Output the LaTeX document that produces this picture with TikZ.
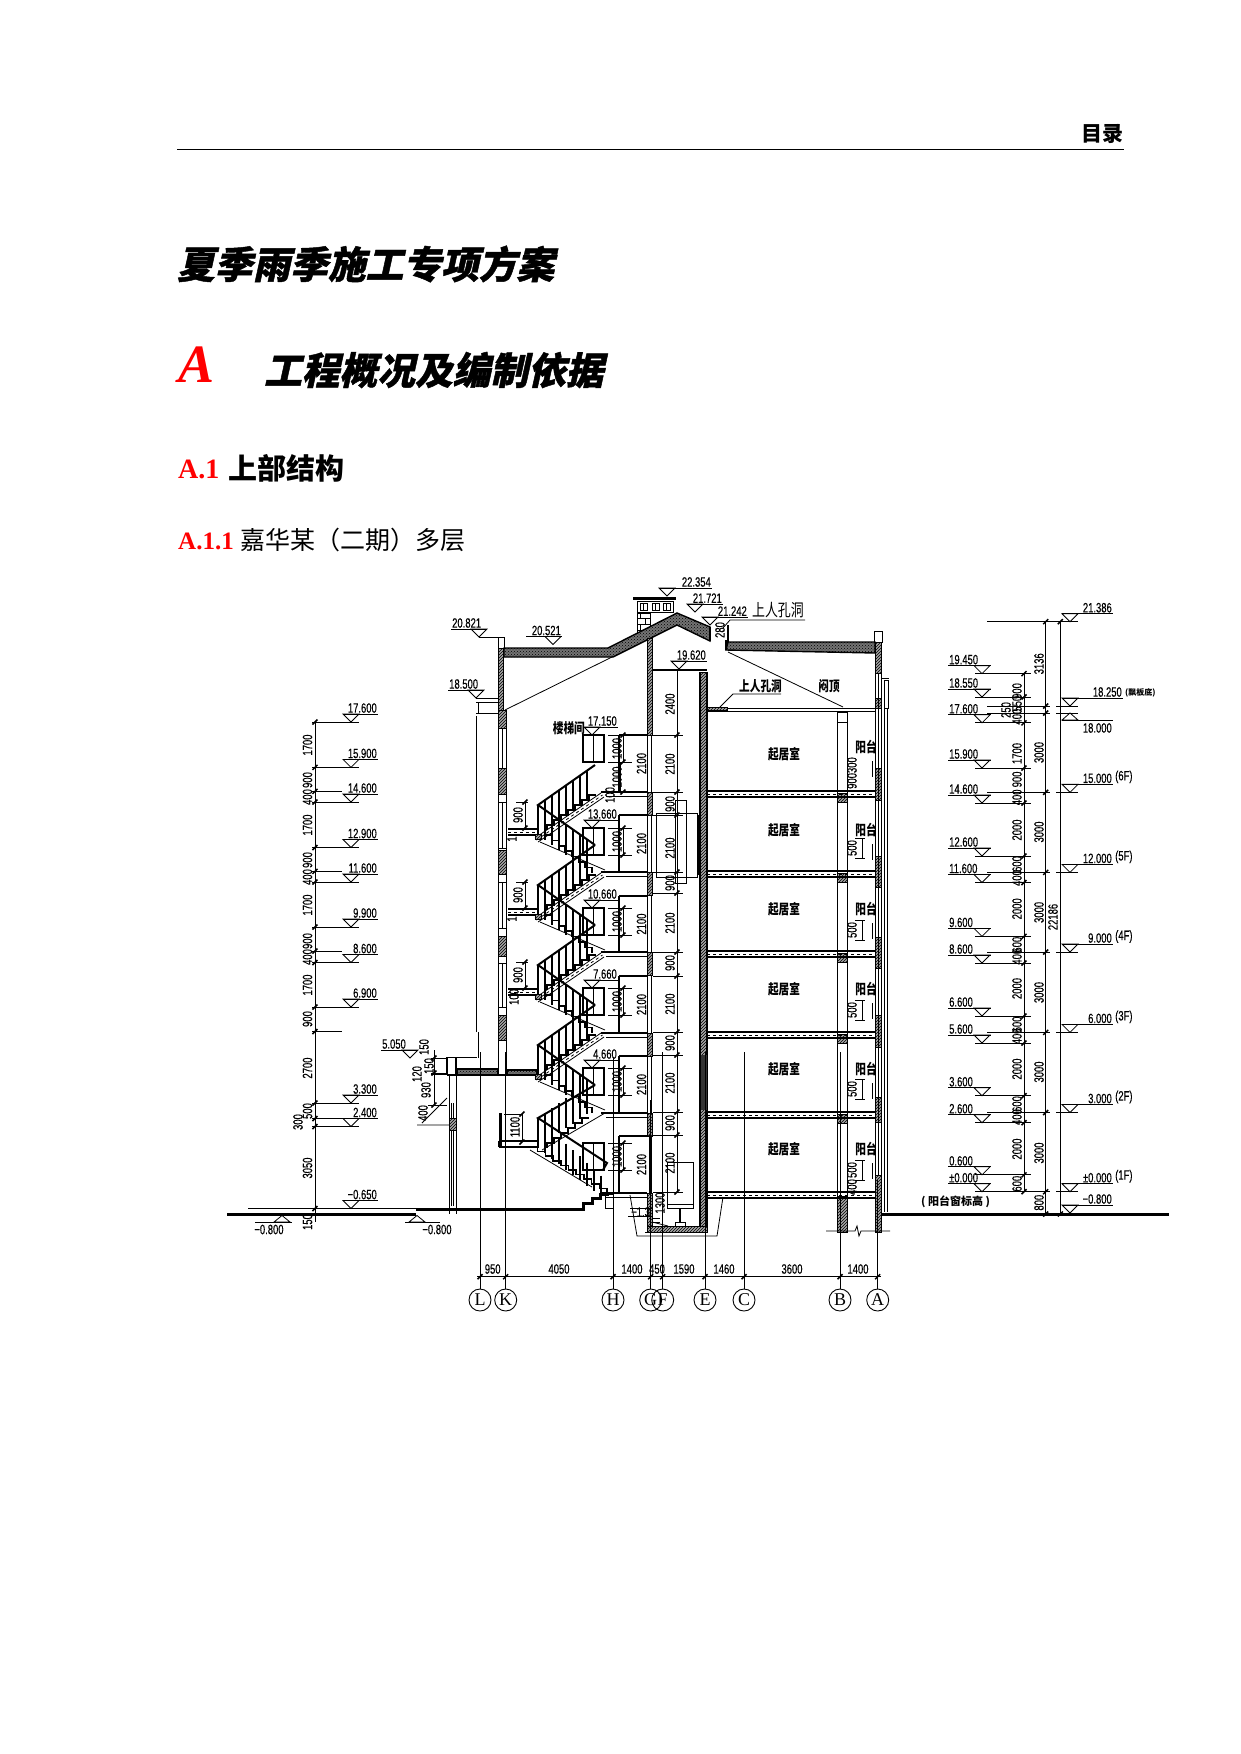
\documentclass[tikz,border=0pt]{standalone}
\usepackage{fontspec}
\usetikzlibrary{patterns}
\setmainfont{Liberation Serif}
\newfontfamily\cjk{Noto Sans CJK SC}
\newfontfamily\cjknarrow[FakeStretch=0.76]{Noto Sans CJK SC}
\newfontfamily\cjkslant[FakeSlant=0.22,FakeBold=1.2]{Noto Sans CJK SC}
\newfontfamily\dimfont[FakeStretch=0.70,FakeBold=0.3]{Liberation Sans}

\tikzset{
  dimtxt/.style={font=\fontsize{13.5}{13.5}\selectfont\dimfont, inner sep=1pt},
  vdim/.style={dimtxt, rotate=90},
  roomtxt/.style={font=\fontsize{14}{14}\selectfont\cjknarrow\bfseries, inner sep=0pt},
  axisnode/.style={draw, circle, inner sep=0pt, minimum size=22pt, line width=0.9pt,
    font=\fontsize{18}{18}\selectfont},
  ln/.style={line width=0.8pt},
  wall/.style={line width=1.5pt},
  rail/.style={line width=2pt},
  heavy/.style={line width=2.6pt},
  hatch/.style={draw, line width=0.8pt, preaction={fill=black!35}, pattern=north east lines},
  roofband/.style={draw, line width=1.4pt, preaction={fill=black!55}, pattern=crosshatch dots}
}

% elevation marks
\newcommand{\elevR}[5]{% apex x, level y, line from, line to, text
  \draw[ln] (#1,#2) -- (#1-8,#2-8) -- (#1+8,#2-8) -- cycle;
  \draw[ln] (#3,#2-8) -- (#4,#2-8);
  \node[dimtxt, anchor=south east] at (#4,#2-8) {#5};}
\newcommand{\elevL}[5]{%
  \draw[ln] (#1,#2) -- (#1-8,#2-8) -- (#1+8,#2-8) -- cycle;
  \draw[ln] (#3,#2-8) -- (#4,#2-8);
  \node[dimtxt, anchor=south west] at (#3,#2-8) {#5};}
\newcommand{\slashtick}[2]{\draw[wall] (#1-2.5,#2+2.5) -- (#1+2.5,#2-2.5);}

\begin{document}
\begin{tikzpicture}[x=1pt,y=-1pt]
\useasboundingbox (0,0) rectangle (1240,1754);

% Page head
\node[anchor=east, inner sep=0pt, font=\fontsize{21}{21}\selectfont\cjk\bfseries] (head) at (1124,134) {目录};
\draw[line width=1pt] (177,149.5) -- (1124,149.5);
\node[anchor=west, inner sep=0pt, font=\fontsize{37.7}{38}\selectfont\cjkslant\bfseries] (title) at (177,264) {夏季雨季施工专项方案};
\node[anchor=base west, inner sep=0pt, red, font=\fontsize{54}{54}\selectfont\bfseries\itshape] (secA) at (178,382) {A};
\node[anchor=west, inner sep=0pt, font=\fontsize{37.7}{38}\selectfont\cjkslant\bfseries] (secAtxt) at (264,370) {工程概况及编制依据};
\node[anchor=base west, inner sep=0pt, red, font=\fontsize{28}{28}\selectfont\bfseries] (secB) at (178,478) {A.1};
\node[anchor=west, inner sep=0pt, font=\fontsize{29}{29}\selectfont\cjk\bfseries] (secBtxt) at (228,468) {上部结构};
\node[anchor=base west, inner sep=0pt, red, font=\fontsize{25}{25}\selectfont\bfseries] (secC) at (178,549) {A.1.1};
\node[anchor=west, inner sep=0pt, font=\fontsize{25}{25}\selectfont\cjk] (secCtxt) at (240,540) {嘉华某（二期）多层};

% Ground
\draw[line width=3pt] (227,1214) -- (416,1214);
\draw[line width=1pt] (248,1208.5) -- (416,1208.5);
\draw[line width=3pt] (416,1209) -- (583,1209) -- (583,1203) -- (592,1203) -- (592,1198) -- (600,1198) -- (600,1194) -- (609,1194);
\draw[line width=3pt] (882,1214) -- (1169,1214);

% Chimney
\fill[pattern=bricks] (637,612) rectangle (650,634);
\draw[ln] (637,601) rectangle (673,612);
\draw[ln] (637,612) -- (637,634) (650,612) -- (650,634);
\foreach \x in {640,652,663} {\draw[ln] (\x,603) rectangle ++(7,7); \draw[ln] (\x+3.5,603) -- (\x+3.5,610);}
\fill (633,597) rectangle (676,600);

% Roof
\path[roofband] (504,648) -- (608,648) -- (677,613) -- (710,627) -- (710,641) -- (677,625) -- (613,657) -- (504,657) -- cycle;
\path[roofband] (728,642) -- (875,642) -- (875,653) -- (726,650) -- (728,642);
\draw[wall] (726,650) -- (726,640) (728,625) -- (728,642) (710,627) -- (710,641);
\draw[ln] (498,637.5) rectangle (504,648);
\draw[ln] (874,631) rectangle (882,642);
\draw[ln] (505,710) -- (613,656.5);
\draw[ln] (728,652) -- (843,707);
\draw[wall] (705,708.5) -- (877,708.5);
\draw[ln] (707,711.5) -- (875,711.5);
\draw[hatch] (707,707) rectangle (727,710);
\draw[ln] (720,707) -- (733,694) -- (781,694);

% Walls
\path[hatch] (498,648) rectangle (503.5,710);
\path[hatch] (498.5,710) rectangle (506.5,728);
\draw[ln] (498.5,728) -- (498.5,1073) (506.5,728) -- (506.5,1073);
\foreach \y/\h in {768/26,850/24,936/20,1015/25} {\path[hatch] (498.5,\y) rectangle ++(8,\h);}
\draw[ln] (502.5,728) -- (502.5,768) (502.5,802) -- (502.5,848) (502.5,882) -- (502.5,928) (502.5,963) -- (502.5,1007);
\foreach \y in {794,802,848,874,882,928,956,963,1007} {\draw[ln] (498.5,\y) -- (506.5,\y);}

\path[hatch] (647,638) rectangle (652,735);
\draw[wall] (647.5,735) -- (647.5,792) (651.5,735) -- (651.5,1193);
\foreach \y in {792,872,952,1033,1113,1193} {\path[hatch] (647,\y) rectangle (652,\y+23);}
\path[hatch] (647,1193) rectangle (652,1232);
\draw[ln] (647.5,815) -- (647.5,1113);
\draw[heavy] (650,1135) -- (650,1193);

\path[hatch] (700,672) rectangle (707,1228);
\draw[wall] (700,672) -- (700,1228) (707,672) -- (707,1228);
\fill[black!80] (700.5,1055) rectangle (706.5,1110);
\draw[heavy] (652,670) -- (707,670);
\path[hatch] (647,1226) rectangle (707,1232);
\draw[wall] (645,1232.5) -- (708,1232.5);

\foreach \y/\h in {642/31,698/10,768/32,856/31,937/31,1015/32,1097/25,1175/57} {\path[hatch] (875,\y) rectangle ++(6,\h);}
\draw[ln] (875,642) -- (875,1232) (881,642) -- (881,1232) (878,673) -- (878,1175);
\draw[ln] (884,680) rectangle (888,708) (882,678) -- (889,678);
\draw[ln] (884,708) -- (884,1212) (887,708) -- (887,1212);

% B column and break line
\draw[ln] (837,712) -- (837,1232) (847,712) -- (847,1232);
\foreach \y in {791,871,951,1032,1112} {\path[hatch] (837,\y+2) rectangle (847,\y+11);}
\path[hatch] (837,1196) rectangle (847,1232);
\draw[ln] (837,712) rectangle (847,722);
\draw[ln] (826,1231) -- (855,1231) -- (857,1226) -- (859,1236) -- (861,1231) -- (890,1231);

% Floors
\foreach \y in {791,871,951,1032,1112,1192} {
  \draw[wall] (707,\y) -- (875,\y) (707,\y+6) -- (875,\y+6);
  \draw[ln, dashed] (707,\y+3) -- (875,\y+3);
  \draw[wall] (601,\y+1) -- (647,\y+1);
  \draw[ln] (606,\y+5) -- (647,\y+5);
}
\draw[ln] (630,1195) -- (637,1236) -- (717,1236) -- (723,1197);

% Left elevation and canopy
\draw[ln] (476,698) -- (498,698) (476,702) -- (498,702) (478,702) -- (478,713) (476,713) -- (498,713);
\draw[ln] (476,716) -- (476,1032) (478,1032) -- (478,1058);
\draw[wall] (447,1057.5) -- (477,1057.5);
\draw[wall] (447,1057) -- (447,1075) (456,1057) -- (456,1075);
\path[roofband] (457,1069) rectangle (498,1075);
\path[roofband] (507,1070) rectangle (537,1075);
\draw[wall] (447,1075) -- (540,1075);
\draw[ln] (449,1075) -- (449,1214) (456,1075) -- (456,1214) (451.5,1103) -- (451.5,1206) (453.5,1103) -- (453.5,1206);
\path[hatch] (449,1118) rectangle (456,1130);
\draw[ln] (417,1125) -- (449,1125) (422,1123) -- (447,1098);

% Stairs
\foreach \y in {833,913,993,1073} {
  \draw[rail] (595,\y-68) -- (538,\y-28) -- (595,\y+12);
  \foreach \i in {0,...,7} {
    \draw[wall] (538+7*\i,\y-28-4.9*\i) -- (538+7*\i,\y+2-4.9*\i);
    \draw[wall] (538+7*\i,\y-28+4.9*\i) -- (538+7*\i,\y+2+4.9*\i);
  }
  \draw[ln] (535,\y+5) -- (601,\y-40) (538,\y+9) -- (604,\y-36);
  \draw[ln, dashed] (536.5,\y+7) -- (602.5,\y-38);
  \draw[wall] (547,\y-3) \foreach \i in {1,...,7} { -- ++(0,-5) -- ++(7,0)};
  \draw[wall] (545,\y+2) \foreach \i in {1,...,7} { -- ++(6.7,0) -- ++(0,5.4)};
  \draw[ln] (540,\y+9) -- (605,\y+37);
  \path[hatch] (535,\y+1) rectangle (541,\y+6);
}
\foreach \y in {833,913,993} {
  \draw[wall] (508,\y-4) -- (538,\y-4) (508,\y+2) -- (535,\y+2);
  \draw[ln, dashed] (508,\y-1) -- (535,\y-1);
  \draw[ln] (525,\y-31) -- (525,\y-5) (516,\y-31) -- (528,\y-31);
  \slashtick{525}{\y-31}
  \slashtick{525}{\y-5}
  \node[vdim] at (518,\y-18) {900};
}
\node[vdim] at (512,839) {1};
\node[vdim] at (512,919) {1};
\node[vdim] at (514,997) {100};
% bottom flight
\draw[rail] (595,1085) -- (538,1118) -- (607,1163) -- (603,1170);
\foreach \i in {0,...,7} {\draw[wall] (538+7*\i,1118-4.9*\i) -- (538+7*\i,1148-4.9*\i);}
\foreach \i in {0,...,9} {\draw[wall] (538+7*\i,1118+6.4*\i) -- (538+7*\i,1148+5.4*\i);}
\draw[wall] (547,1148) \foreach \i in {1,...,6} { -- ++(0,-5) -- ++(7,0)};
\draw[wall] (530,1147) \foreach \i in {1,...,10} { -- ++(7.7,0) -- ++(0,4.6)};
\draw[ln] (530,1150) -- (592,1187);
\draw[ln] (542,1150) -- (605,1113);
\draw[heavy] (500.5,1113) -- (500.5,1146);
\draw[wall] (499,1141) -- (538,1141) (499,1147) -- (530,1147) (499,1141) -- (499,1147);
\draw[ln] (504,1114) -- (522,1114) (522,1114) -- (522,1142);
\slashtick{522}{1114}
\slashtick{522}{1142}
\node[vdim] at (515,1127) {1100};
\draw[ln] (605,1194) rectangle (613,1208);

% Stair doors
\foreach \y/\h in {735/27,828/27,908/27,988/27,1068/27,1143/27} {
  \draw[wall] (583,\y) rectangle (604,\y+\h);
  \draw[ln] (593.5,\y) -- (593.5,\y+\h);
  \draw[ln] (608,\y) -- (632,\y) (608,\y+\h) -- (632,\y+\h) (623,\y) -- (623,\y+\h);
  \slashtick{623}{\y}
  \slashtick{623}{\y+\h}
  \node[vdim] at (617,\y+13.5) {1000};
}
\foreach \y/\lab in {735/17.150,828/13.660,908/10.660,988/7.660,1068/4.660} {\elevR{592}{\y}{584}{618}{\lab}}
\node[roomtxt, anchor=east] (stairroom) at (585,728) {楼梯间};
\draw[ln] (620,762) -- (620,792) (608,792) -- (632,792);
\slashtick{623}{792}
\node[vdim] at (617,777) {1000};
\node[vdim] at (610,795) {100};
% door boxes
\foreach \y/\yb in {735/792,815/872,896/952,976/1033,1056/1113,1136/1193} {
  \draw[wall] (619,\y) -- (647,\y) (619,\y) -- (619,\yb);
  \node[vdim] at (641.5,{(\y+\yb)/2}) {2100};
}

% Lift shaft
\draw[ln] (677,670) -- (677,1192);
\foreach \y in {735,792,815,872,893,952,976,1032,1055,1112,1135,1192} {
  \draw[ln] (653,\y) -- (683,\y);
  \slashtick{677}{\y}
}
\foreach \y/\lab in {704/2400,764/2100,804/900,848/2100,883/900,923/2100,963/900,1004/2100,1043/900,1083/2100,1123/900,1163/2100} {
  \node[vdim] at (670,\y) {\lab};
}
\draw[ln] (656,813) rectangle (697,877);
\draw[ln] (675,800) rectangle (686,883);
\draw[wall] (698,815) -- (698,875);
\draw[ln] (667,1162) rectangle (693,1208);
\draw[ln] (667,1204) -- (693,1204);
\draw[wall] (680,1208) -- (680,1222);
\draw[ln] (675,1222) rectangle (685,1226);
\node[vdim] at (660,1203) {1300};
\node[dimtxt, anchor=west] at (630,1212) {−1.3};
\draw[ln] (628,1216) -- (652,1216) (630,1208) -- (652,1208);
\draw[ln] (652,1222) -- (668,1226);
\foreach \y in {1218,1222} {\draw[ln] (653,\y) -- (660,\y);}

% Top labels
\elevR{667}{596}{660}{712}{22.354}
\elevR{695}{612}{687}{723}{21.721}
\elevR{710}{625}{702}{748}{21.242}
\elevL{479}{637}{451}{487}{20.821}
\draw[ln] (479,637.5) -- (498,637.5);
\elevR{553}{644.5}{526}{562}{20.521}
\elevL{476}{698}{448}{483}{18.500}
\elevR{679}{669}{672}{707}{19.620}
\node[vdim] at (720,630) {280};
\draw[ln] (755,620) -- (805,620) (723,628) -- (730,620) -- (755,620);
\node[anchor=south east, inner sep=1pt, font=\fontsize{17}{17}\selectfont\cjknarrow] (manhole) at (805,619) {上人孔洞};
\node[roomtxt, anchor=south east] (manholeb) at (782,693) {上人孔洞};
\node[roomtxt] (attic) at (829,686) {闷顶};

% Rooms
\foreach \y in {754,830,909,989,1069,1149} {\node[roomtxt] at (784,\y) {起居室};}
\foreach \y in {747,830,909,989,1069,1149} {
  \node[roomtxt] at (866,\y) {阳台};
  \draw[wall] (872.7,\y+14) -- (872.7,\y+30);
}
\foreach \y in {848,930,1010,1089,1170} {
  \node[vdim] at (852,\y) {500};
  \draw[ln] (855,\y-10) -- (865,\y-10) (855,\y+10) -- (865,\y+10) (862,\y-10) -- (862,\y+10);
}
\node[vdim] at (852,773) {900300};
\node[vdim] at (852,1187) {400};

% Left dimension column
\draw[ln] (315,722) -- (315,1222);
\foreach \y/\xe in {722/359,767.4/359,791.4/342,802/359,847.5/359,871.3/342,882/359,927/359,951/342,962.5/359,1007/359,1031.5/342,1103/359,1118.5/359,1126.5/359,1208.5/359} {
  \draw[ln] (312,\y) -- (\xe,\y);
  \slashtick{315}{\y}
}
\foreach \y/\lab in {722/17.600,767.4/15.900,802/14.600,847.5/12.900,882/11.600,927/9.900,962.5/8.600,1007/6.900,1103/3.300,1126.5/2.400,1208.5/−0.650} {
  \elevR{351}{\y}{343}{378}{\lab}
}
\foreach \y/\lab in {745/1700,780/900,797/400,825/1700,860/900,877/400,905/1700,941/900,957/400,985/1700,1019/900,1068/2700,1111/500,1168/3050,1222/150} {
  \node[vdim] at (307.5,\y) {\lab};
}
\node[vdim] at (298,1122) {300};
% Ground marks
\draw[ln] (282,1215.5) -- (274,1222) -- (290,1222) -- cycle;
\draw[ln] (255,1222) -- (292,1222);
\node[dimtxt] at (269,1229.5) {−0.800};
\draw[ln] (417,1215.5) -- (409,1222) -- (425,1222) -- cycle;
\draw[ln] (405,1222) -- (440,1222);
\node[dimtxt] at (437,1229.5) {−0.800};
\elevL{410}{1058}{381}{418}{5.050}
\draw[ln] (431,1058) -- (447,1058) (431,1073) -- (447,1073) (431,1074.5) -- (447,1074.5) (428,1105) -- (447,1105);
\draw[ln] (434,1050) -- (434,1105);
\foreach \y in {1058,1073,1105} {\slashtick{434}{\y}}
\node[vdim] at (424,1047) {150};
\node[vdim] at (429,1066) {150};
\node[vdim] at (417,1074) {120};
\node[vdim] at (426,1090) {930};
\node[vdim] at (423,1113) {400};

% Right dimension columns
\draw[ln] (1024,674) -- (1024,1192);
\draw[ln] (1045.7,621.7) -- (1045.7,1214);
\draw[ln] (1060.3,621.7) -- (1060.3,1214);
\foreach \y/\lab in {673.6/19.450,697/18.550,722.8/17.600,768/15.900,803/14.600,856/12.600,882.5/11.600,936.4/9.600,963/8.600,1016/6.600,1043/5.600,1095.7/3.600,1122.7/2.600,1174.8/0.600,1191.7/±0.000} {
  \elevL{982}{\y}{948}{991}{\lab}
  \draw[ln] (975,\y) -- (1030.7,\y);
  \slashtick{1024}{\y}
}
\foreach \y/\lab in {691/900,703.7/550,716.6/400,753.5/1700,779.4/900,797.3/400,830/2000,864/600,878/400,908.8/2000,944.7/600,956.7/400,988.5/2000,1024.4/600,1036.3/400,1069/2000,1104/600,1117/400,1149/2000,1183.7/600} {
  \node[vdim] at (1017,\y) {\lab};
}
\node[vdim] at (1006,710) {250};
\foreach \y/\lab in {663.8/3136,752.5/3000,832/3000,912.4/3000,992.5/3000,1072/3000,1153/3000,1202.7/800} {
  \node[vdim] at (1039,\y) {\lab};
}
\node[vdim] at (1053,917) {22186};
\draw[ln] (987,621.7) -- (1078,621.7);
\foreach \y in {706,713,792.3,872.4,952,1032.4,1112.5,1191.7} {
  \draw[ln] (987,\y) -- (1050,\y) (1056,\y) -- (1078,\y);
  \slashtick{1045.7}{\y}
}
\slashtick{1045.7}{621.7}
\slashtick{1045.7}{1214}
\slashtick{1060.3}{621.7}
\slashtick{1060.3}{1214}
\elevR{1070}{621.7}{1062}{1113}{21.386}
\elevR{1070}{706}{1062}{1123}{18.250}
\node[anchor=south west, inner sep=1pt, font=\fontsize{8}{8}\selectfont\cjk\bfseries] (soffit) at (1124,698) {(飘板底)};
\draw[ln] (1070,713) -- (1062,720) -- (1078,720) -- cycle;
\draw[ln] (1062,720) -- (1113,720);
\node[dimtxt, anchor=north east] at (1113,722) {18.000};
\foreach \y/\lab/\fl in {792.3/15.000/6F,872.4/12.000/5F,952/9.000/4F,1032.4/6.000/3F,1112.5/3.000/2F,1191.7/±0.000/1F} {
  \elevR{1070}{\y}{1062}{1113}{\lab}
  \node[dimtxt, anchor=south west] at (1114,\y-8) {(\fl)};
}
\elevR{1070}{1213}{1062}{1113}{−0.800}
\node[anchor=west, inner sep=0pt, font=\fontsize{11}{11}\selectfont\cjk\bfseries] (sillnote) at (921,1202) {( 阳台窗标高 )};

% Axis nodes and grid lines
\foreach \nm/\x/\top in {L/480/1052,K/505.7/1052,H/613/1057,G/650.7/1100,F/662.7/1052,E/705/1052,C/744/1052,B/840/1052,A/877.7/1180} {
  \node[axisnode] (axis\nm) at (\x,1300) {\nm};
  \draw[ln] (axis\nm) -- (\x,\top);
  \slashtick{\x}{1276.7}
}
\draw[ln] (477,1276.7) -- (881,1276.7);
\foreach \x/\lab in {492.7/950,559/4050,632/1400,657/450,684/1590,724/1460,792/3600,858/1400} {
  \node[dimtxt] at (\x,1269) {\lab};
}
\end{tikzpicture}
\end{document}
